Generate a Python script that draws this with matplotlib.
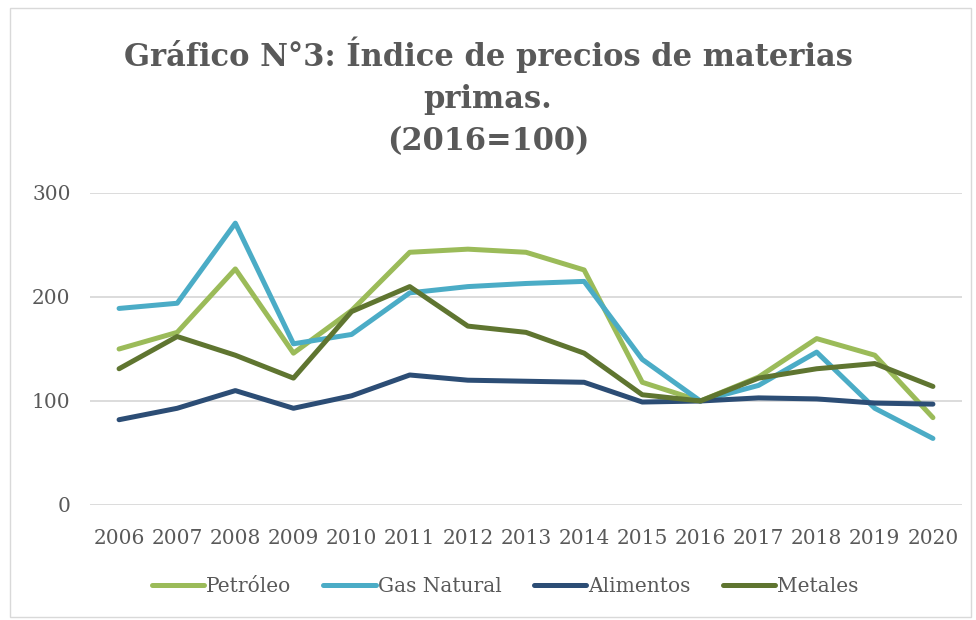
import matplotlib
matplotlib.use("Agg")
import matplotlib.pyplot as plt
from matplotlib.patches import Rectangle

years = ["2006", "2007", "2008", "2009", "2010", "2011", "2012", "2013",
         "2014", "2015", "2016", "2017", "2018", "2019", "2020"]
petroleo = [150, 166, 227, 146, 187, 243, 246, 243, 226, 118, 100, 123, 160, 144, 84]
gas_natural = [189, 194, 271, 155, 164, 204, 210, 213, 215, 140, 100, 115, 147, 93, 64]
alimentos = [82, 93, 110, 93, 105, 125, 120, 119, 118, 99, 100, 103, 102, 98, 97]
metales = [131, 162, 144, 122, 186, 210, 172, 166, 146, 106, 100, 122, 131, 136, 114]

series_names = ["Petróleo", "Gas Natural", "Alimentos", "Metales"]
colors = ["#9BBB59", "#4BACC6", "#2C4D75", "#5F7530"]

plt.rcParams["font.family"] = ["DejaVu Serif"]
text_color = "#595959"

fig = plt.figure(figsize=(9.76, 6.2), dpi=100)
fig.patches.append(Rectangle((10/976, 0.005), 0.995 - 10/976, 1 - 8/620 - 0.005,
                             transform=fig.transFigure, fill=False,
                             edgecolor="#D9D9D9", linewidth=1.0))

ax = fig.add_axes([90/976, (620-505)/620, 872/976, (505-193)/620])
x = list(range(len(years)))
for vals, name, c in zip([petroleo, gas_natural, alimentos, metales], series_names, colors):
    ax.plot(x, vals, color=c, linewidth=3.6, label=name, solid_capstyle="round",
            solid_joinstyle="round")

ax.set_xlim(-0.5, len(years) - 0.5)
ax.set_ylim(0, 300)
ax.set_yticks([0, 100, 200, 300])
ax.set_xticks(x)
ax.set_xticklabels(years)
ax.grid(axis="y", color="#D9D9D9", linewidth=1.3)
ax.set_axisbelow(True)
for s in ax.spines.values():
    s.set_visible(False)
ax.tick_params(length=0, labelsize=14.5, colors=text_color)
ax.tick_params(axis="x", pad=17)
ax.tick_params(axis="y", pad=14)

fig.text(0.5, 1 - 97/620, "Gráfico N°3: Índice de precios de materias\nprimas.\n(2016=100)",
         ha="center", va="center", fontsize=22, fontweight="bold", color=text_color,
         linespacing=1.45)

leg = fig.legend(loc="center", bbox_to_anchor=(505/976, (620-587)/620), ncol=4,
                 frameon=False, fontsize=14.5, handlelength=2.6, columnspacing=1.6,
                 handletextpad=0.1)
for t in leg.get_texts():
    t.set_color(text_color)

fig.savefig("out.png", dpi=100)
